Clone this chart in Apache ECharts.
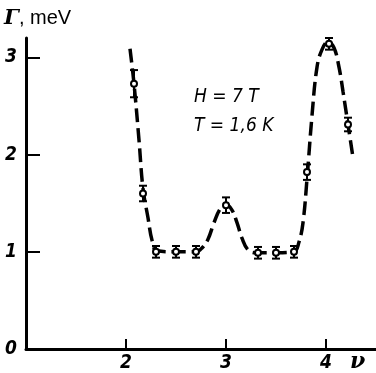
<!DOCTYPE html>
<html lang="en">
<head>
    <meta charset="UTF-8">
    <title>Gamma vs nu</title>
    <style>
        body { margin: 0; background: #fff; }
        #chart { width: 376px; height: 373px; }
    </style>
</head>
<body>
<div id="chart"></div>
<script src="https://cdn.jsdelivr.net/npm/echarts@6/dist/echarts.min.js"></script>
<script>
    // measured points
    var nu = [2.08, 2.17, 2.30, 2.50, 2.70, 3.00, 3.32, 3.50, 3.68, 3.81, 4.03, 4.22];
    var gamma = [2.73, 1.60, 1.00, 1.00, 1.00, 1.48, 0.99, 0.99, 1.00, 1.82, 3.14, 2.31];
    var err = [0.14, 0.08, 0.06, 0.06, 0.06, 0.08, 0.06, 0.06, 0.06, 0.08, 0.06, 0.07];

    // dashed curve
    var fitNu = [2.04, 2.08, 2.13, 2.17, 2.22, 2.26, 2.31, 2.50, 2.70, 2.76, 2.82, 2.88, 2.94, 3.00,
        3.06, 3.11, 3.16, 3.22, 3.30, 3.50, 3.68, 3.73, 3.77, 3.81, 3.86, 3.91, 3.96, 4.02,
        4.08, 4.13, 4.17, 4.22, 4.27];
    var fitGamma = [3.09, 2.73, 2.15, 1.65, 1.35, 1.12, 1.01, 1.00, 1.00, 1.04, 1.13, 1.30, 1.44, 1.49,
        1.43, 1.30, 1.14, 1.02, 0.99, 0.99, 1.00, 1.10, 1.30, 1.75, 2.40, 2.90, 3.08, 3.16,
        3.10, 2.90, 2.65, 2.31, 1.97];

    var xTicks = ['2', '3', '4'];
    var yTicks = ['0', '1', '2', '3'];

    var pts = nu.map(function (v, i) { return [v, gamma[i], err[i]]; });
    var fit = fitNu.map(function (v, i) { return [v, fitGamma[i]]; });

    var labelFont = {
        color: '#000', fontFamily: 'DejaVu Sans Condensed', fontStyle: 'italic',
        fontWeight: 'bold', fontSize: 19
    };

    var myChart = echarts.init(document.getElementById('chart'));
    var option = {
        animation: false,
        grid: { left: 26, right: 0, top: 38, bottom: 22, containLabel: false },
        xAxis: {
            type: 'value', min: 1, max: 4.5, interval: 1,
            axisLine: { lineStyle: { color: '#000', width: 3 } },
            axisTick: { inside: true, length: 10, lineStyle: { color: '#000', width: 2 } },
            splitLine: { show: false },
            axisLabel: Object.assign({
                margin: 5,
                showMaxLabel: false,
                formatter: function (v) {
                    var s = String(v);
                    return xTicks.indexOf(s) >= 0 ? s : '';
                }
            }, labelFont)
        },
        yAxis: {
            type: 'value', min: 0, max: 3.2, interval: 1,
            axisLine: { lineStyle: { color: '#000', width: 3 } },
            axisTick: { inside: true, length: 14, lineStyle: { color: '#000', width: 2 } },
            splitLine: { show: false },
            axisLabel: Object.assign({
                margin: 9,
                showMaxLabel: false,
                formatter: function (v) {
                    var s = String(v);
                    return yTicks.indexOf(s) >= 0 ? s : '';
                }
            }, labelFont)
        },
        graphic: [
            {
                type: 'text', left: 4, top: 8,
                style: {
                    text: '{g|Γ}{u|, meV}',
                    rich: {
                        g: { fontFamily: 'DejaVu Serif', fontStyle: 'italic', fontWeight: 'bold', fontSize: 21, fill: '#000' },
                        u: { fontFamily: 'Liberation Sans', fontSize: 20, fill: '#000' }
                    }
                }
            },
            {
                type: 'text', left: 350, top: 351,
                style: { text: 'ν', fontFamily: 'DejaVu Serif', fontStyle: 'italic', fontWeight: 'bold', fontSize: 22, fill: '#000' }
            },
            {
                type: 'text', left: 194, top: 88,
                style: { text: 'H = 7 T', fontFamily: 'DejaVu Sans Condensed', fontStyle: 'italic', fontSize: 19, fill: '#000' }
            },
            {
                type: 'text', left: 194, top: 117,
                style: { text: 'T = 1,6 K', fontFamily: 'DejaVu Sans Condensed', fontStyle: 'italic', fontSize: 19, fill: '#000' }
            }
        ],
        series: [
            {
                type: 'line',
                data: fit,
                smooth: 0.4,
                symbol: 'none',
                lineStyle: { color: '#000', width: 3.5, type: [14, 6] },
                z: 2
            },
            {
                type: 'custom',
                data: pts,
                z: 3,
                renderItem: function (params, api) {
                    var x = api.value(0), y = api.value(1), e = api.value(2);
                    var top = api.coord([x, y + e]);
                    var bot = api.coord([x, y - e]);
                    var c = api.coord([x, y]);
                    var st = { stroke: '#000', lineWidth: 2 };
                    return {
                        type: 'group',
                        children: [
                            { type: 'line', shape: { x1: top[0], y1: top[1], x2: bot[0], y2: bot[1] }, style: st },
                            { type: 'line', shape: { x1: top[0] - 4, y1: top[1], x2: top[0] + 4, y2: top[1] }, style: st },
                            { type: 'line', shape: { x1: bot[0] - 4, y1: bot[1], x2: bot[0] + 4, y2: bot[1] }, style: st },
                            { type: 'circle', shape: { cx: c[0], cy: c[1], r: 3 }, style: { fill: '#fff', stroke: '#000', lineWidth: 2 } }
                        ]
                    };
                }
            }
        ]
    };
    myChart.setOption(option);
</script>
</body>
</html>
